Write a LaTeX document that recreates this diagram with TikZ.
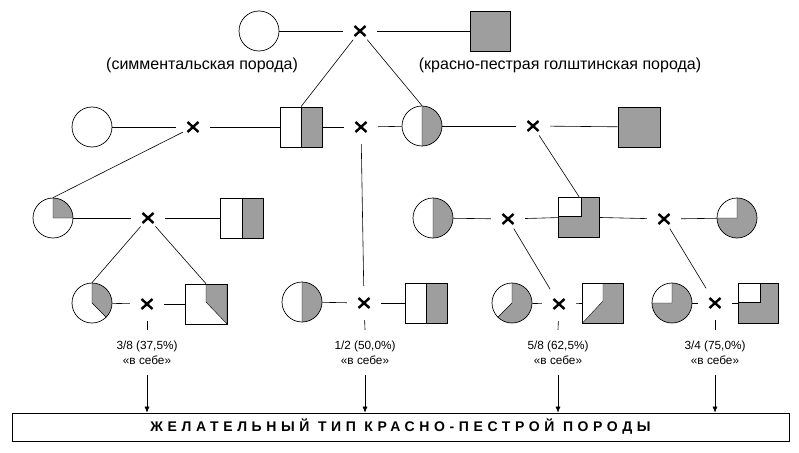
\documentclass[tikz,border=0pt]{standalone}
\usepackage{fontspec}
\setmainfont{Liberation Sans}
\newfontfamily\boxfont[LetterSpace=33]{Liberation Sans}
\usetikzlibrary{arrows.meta}
\begin{document}
\begin{tikzpicture}[x=1pt,y=1pt,
  hatch/.style={fill=black!38},
  shp/.style={draw,line width=0.7pt,inner sep=0pt},
  circ/.style={shp,circle,minimum size=40pt},
  sq/.style={shp,rectangle,minimum width=40pt,minimum height=40pt},
  sect/.style 2 args={path picture={\filldraw[hatch,draw=black,line width=0.4pt]
     (path picture bounding box.center) -- ++(#1:25pt)
     arc[start angle=#1,end angle=#2,radius=25pt] -- cycle;}},
  sqfull/.style={sq,hatch},
  sqhalf/.style={sq,path picture={\filldraw[hatch,draw=black,line width=0.4pt]
     (path picture bounding box.north) rectangle (path picture bounding box.south east);}},
  sqtq/.style={sq,path picture={\fill[hatch] (path picture bounding box.south west)
     rectangle (path picture bounding box.north east);
     \filldraw[fill=white,draw=black,line width=0.4pt] (path picture bounding box.north west)
     rectangle ([xshift=2pt,yshift=1pt]path picture bounding box.center);}},
  sqtte/.style={sq,path picture={\filldraw[hatch,draw=black,line width=0.4pt]
     (path picture bounding box.north) -- (path picture bounding box.north east)
     -- (path picture bounding box.south east) -- ([yshift=2pt]path picture bounding box.center) -- cycle;}},
  sqfe/.style={sq,path picture={\fill[hatch] (path picture bounding box.south west)
     rectangle (path picture bounding box.north east);
     \filldraw[fill=white,draw=black,line width=0.4pt] (path picture bounding box.north west)
     -- (path picture bounding box.north) -- ([yshift=2pt]path picture bounding box.center)
     -- (path picture bounding box.south west) -- cycle;}},
  cross/.style={circle,minimum size=34pt,inner sep=0pt,
     path picture={\draw[line width=2.4pt]
       ([shift={(-5.5,-5)}]path picture bounding box.center) -- ([shift={(5.5,5)}]path picture bounding box.center)
       ([shift={(-5.5,5)}]path picture bounding box.center) -- ([shift={(5.5,-5)}]path picture bounding box.center);}},
  conn/.style={line width=0.6pt},
  diag/.style={conn,shorten <=-6pt},
  arr/.style={line width=0.6pt,-{Latex[length=6pt,width=5pt]}},
  toplab/.style={font=\fontsize{16}{19}\selectfont},
  frac/.style={align=center,font=\fontsize{11.8}{15}\selectfont,inner xsep=2pt,inner ysep=10.5pt},
]
\useasboundingbox (0,0) rectangle (799,-452);

% row 1
\node[circ] (c1) at (259,-31) {};
\node[cross] (x1) at (360,-31) {};
\node[sqfull] (s1) at (490,-31) {};
\node[toplab] (lab1) at (202,-65) {(симментальская порода)};
\node[toplab] (lab2) at (560,-65) {(красно-пестрая голштинская порода)};

% row 2
\node[circ] (c2) at (92,-127) {};
\node[cross] (x2) at (193,-127) {};
\node[sqhalf,minimum width=42pt] (r2) at (301,-127) {};
\node[cross] (x3) at (361,-127) {};
\node[circ,sect={90}{-90}] (h2) at (422,-126) {};
\node[cross] (x4) at (533,-126) {};
\node[sqfull,minimum width=42pt] (s2) at (639,-127) {};

% row 3
\node[circ,sect={90}{0}] (q3) at (53,-218) {};
\node[cross] (x5) at (148,-218) {};
\node[sqhalf,minimum width=43pt] (r3) at (242,-218) {};
\node[circ,sect={90}{-90}] (h3) at (433,-218) {};
\node[cross] (x6) at (508,-219) {};
\node[sqtq,minimum width=41pt] (t3) at (579,-217) {};
\node[cross] (x7) at (664,-219) {};
\node[circ,sect={90}{-180}] (c3) at (737,-218) {};

% row 4
\node[circ,sect={90}{-45}] (a4) at (92,-303) {};
\node[cross] (x8) at (147,-304) {};
\node[sqtte,minimum width=42pt] (b4) at (206,-304) {};
\node[circ,sect={90}{-90}] (m4) at (302,-302) {};
\node[cross] (x9) at (364,-303) {};
\node[sqhalf,minimum width=42pt] (n4) at (426,-303) {};
\node[circ,sect={90}{-135}] (p4) at (512,-303) {};
\node[cross] (x10) at (559,-304) {};
\node[sqfe,minimum width=41pt] (q4) at (603,-303) {};
\node[circ,sect={90}{-180}] (u4) at (672,-303) {};
\node[cross] (x11) at (715,-303) {};
\node[sqtq] (v4) at (758,-303) {};

% fraction labels
\node[frac] (l1) at (147,-352.5) {3/8 (37,5\%)\\«в себе»};
\node[frac] (l2) at (365,-352.5) {1/2 (50,0\%)\\«в себе»};
\node[frac] (l3) at (558,-352.5) {5/8 (62,5\%)\\«в себе»};
\node[frac] (l4) at (715,-352.5) {3/4 (75,0\%)\\«в себе»};

% bottom box
\node[draw,line width=0.7pt,minimum width=777pt,minimum height=28pt,inner sep=0pt,
      font=\boxfont\bfseries\fontsize{14}{16}\selectfont] (box) at (400.5,-427)
      {ЖЕЛАТЕЛЬНЫЙ ТИП КРАСНО-ПЕСТРОЙ ПОРОДЫ};

% connectors row 1
\draw[conn] (c1) -- (x1);
\draw[conn] (x1) -- (s1);
\draw[diag] (x1) -- (r2.north);
\draw[diag] (x1) -- (h2.north);

% row 2
\draw[conn] (c2) -- (x2);
\draw[conn] (x2) -- (r2);
\draw[conn] (r2) -- (x3);
\draw[conn] (x3) -- (h2);
\draw[conn] (h2) -- (x4);
\draw[conn] (x4) -- (s2);
\draw[diag] (x2) -- (q3.north);
\draw[conn] (x3) -- (x9);
\draw[diag] (x4) -- (t3.north);

% row 3
\draw[conn] (q3) -- (x5);
\draw[conn] (x5) -- (r3);
\draw[conn] (h3) -- (x6);
\draw[conn] (x6) -- (t3);
\draw[conn] (t3) -- (x7);
\draw[conn] (x7) -- (c3);
\draw[diag] (x5) -- (a4.north);
\draw[diag] (x5) -- (b4.north);
\draw[diag] (x6) -- (x10);
\draw[diag] (x7) -- (x11);

% row 4
\draw[conn] (a4) -- (x8);
\draw[conn] (x8) -- (b4);
\draw[conn] (m4) -- (x9);
\draw[conn] (x9) -- (n4);
\draw[conn] (p4) -- (x10);
\draw[conn] (x10) -- (q4);
\draw[conn] (u4) -- (x11);
\draw[conn] (x11) -- (v4);

% to labels and box
\foreach \xx/\ll in {x8/l1,x9/l2,x10/l3,x11/l4}{
  \draw[conn] (\xx) -- (\ll.north);
  \draw[arr] (\ll.south) -- (\ll.south |- box.north);
}
\end{tikzpicture}
\end{document}
